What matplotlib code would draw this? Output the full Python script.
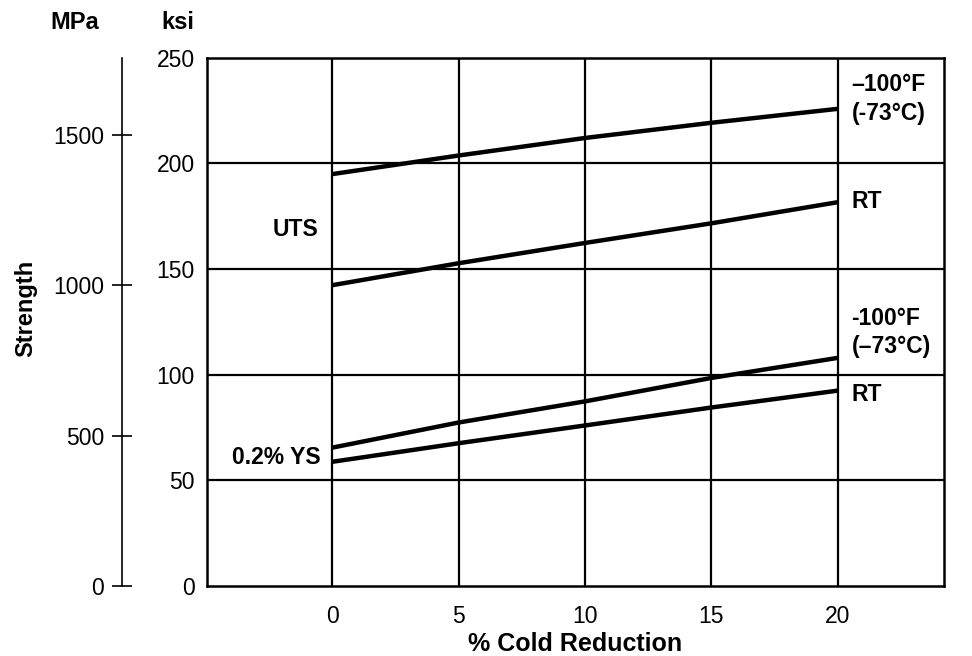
import matplotlib.pyplot as plt

plt.rcParams['font.family'] = ['Liberation Sans', 'DejaVu Sans']

# % cold reduction
reduction = [0, 5, 10, 15, 20]

# strength, ksi
uts_cold = [194.9, 203.7, 212.0, 219.2, 225.8]
uts_rt = [142.3, 152.7, 162.3, 171.6, 181.6]
ys_cold = [65.4, 77.3, 87.3, 98.4, 107.9]
ys_rt = [58.7, 67.5, 75.9, 84.4, 92.4]

ksi_ticks = [0, 50, 100, 150, 200, 250]
mpa_ticks = [0, 500, 1000, 1500]
x_ticks = [0, 5, 10, 15, 20]

# scale of MPa bar as drawn in the original figure
MPA_PER_KSI = 7.03

fig = plt.figure(figsize=(9.72, 6.56), dpi=100)
ax = fig.add_axes([0.213, 0.107, 0.758, 0.805])

ax.set_xlim(-4.95, 24.2)
ax.set_ylim(0, 250)

for y in ksi_ticks[1:-1]:
    ax.axhline(y, color='black', lw=1.6, zorder=1)
for x in x_ticks:
    ax.axvline(x, color='black', lw=1.6, zorder=1)

for s in (uts_cold, uts_rt, ys_cold, ys_rt):
    ax.plot(reduction, s, color='black', lw=3.2, solid_capstyle='butt', zorder=3)

for sp in ax.spines.values():
    sp.set_linewidth(1.8)

ax.set_xticks(x_ticks)
ax.set_yticks(ksi_ticks)
ax.tick_params(axis='y', length=0, labelsize=16.5, pad=9)
ax.tick_params(axis='x', length=0, labelsize=16.5, pad=14)
ax.set_xlabel('% Cold Reduction', fontsize=18, fontweight='bold', labelpad=3)

sec = ax.secondary_yaxis(-0.115, functions=(lambda k: k * MPA_PER_KSI,
                                             lambda m: m / MPA_PER_KSI))
sec.set_yticks(mpa_ticks)
sec.tick_params(direction='inout', length=14, width=1.2, labelsize=16.5, pad=6)
sec.spines['left'].set_linewidth(1.2)

fig.text(0.026, 0.53, 'Strength', fontsize=17, fontweight='bold',
         rotation=90, ha='center', va='center')

# curve labels
lab = dict(fontsize=16.5, fontweight='bold', va='center')
ax.text(20.55, 230.5, '\u2013100\u00b0F\n(-73\u00b0C)', linespacing=1.3, **lab)
ax.text(20.55, 181.8, 'RT', **lab)
ax.text(20.55, 119.8, '-100\u00b0F\n(\u201373\u00b0C)', linespacing=1.3, **lab)
ax.text(20.55, 90.5, 'RT', **lab)
ax.text(-0.55, 168.5, 'UTS', ha='right', **lab)
ax.text(-0.47, 60.6, '0.2% YS', ha='right', **lab)

fig.text(0.077, 0.966, 'MPa', fontsize=17, fontweight='bold', ha='center', va='center')
fig.text(0.183, 0.966, 'ksi', fontsize=17, fontweight='bold', ha='center', va='center')

plt.savefig('out.png', dpi=100)
